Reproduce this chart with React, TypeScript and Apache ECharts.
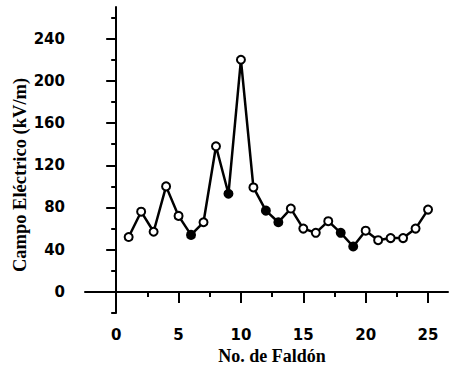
import React, { useEffect, useRef } from "react";
import * as echarts from "echarts";

const faldon = [1, 2, 3, 4, 5, 6, 7, 8, 9, 10, 11, 12, 13, 14, 15, 16, 17, 18, 19, 20, 21, 22, 23, 24, 25];
const campo = [52, 76, 57, 100, 72, 54, 66, 138, 93, 220, 99, 77, 66, 79, 60, 56, 67, 56, 43, 58, 49, 51, 51, 60, 78];
const filledPoints = [6, 9, 12, 13, 18, 19];

const yMajorTicks = [0, 40, 80, 120, 160, 200, 240];
const yMinorTicks = [-20, 20, 60, 100, 140, 180, 220, 260];
const xMajorTicks = [0, 5, 10, 15, 20, 25];
const xMinorTicks = [2.5, 7.5, 12.5, 17.5, 22.5];

const xTitle = "No. de Faldón";
const yTitle = "Campo Eléctrico (kV/m)";

export default function App() {
  const ref = useRef<HTMLDivElement>(null);
  useEffect(() => {
    if (!ref.current) return;
    const chart = echarts.init(ref.current, null, { renderer: "svg" });
    const numFont = { fontFamily: "DejaVu Sans", fontWeight: "bold", color: "#000" };
    const titleStyle = {
      fontFamily: "Liberation Serif",
      fontWeight: "bold",
      fill: "#000",
      align: "center",
      verticalAlign: "middle",
    };
    chart.setOption({
      animation: false,
      backgroundColor: "#fff",
      grid: { left: 85, top: 7, right: 2, bottom: 52, containLabel: false, outerBoundsMode: "none" },
      graphic: [
        {
          type: "text",
          x: 20,
          y: 175,
          rotation: Math.PI / 2,
          style: { ...titleStyle, text: yTitle, fontSize: 18.5 },
        },
        {
          type: "text",
          x: 272,
          y: 356,
          style: { ...titleStyle, text: xTitle, fontSize: 18 },
        },
      ],
      xAxis: [
        {
          type: "value",
          min: -2.5,
          max: 26.6,
          position: "bottom",
          splitLine: { show: false },
          axisLine: { lineStyle: { color: "#000", width: 2 } },
          axisTick: { customValues: xMajorTicks, length: 11, lineStyle: { color: "#000", width: 2 } },
          axisLabel: { customValues: xMajorTicks, margin: 14, fontSize: 15, ...numFont },
        },
        {
          type: "value",
          min: -2.5,
          max: 26.6,
          position: "bottom",
          splitLine: { show: false },
          axisLine: { show: false },
          axisTick: { customValues: xMinorTicks, length: 5, lineStyle: { color: "#000", width: 2 } },
          axisLabel: { show: false },
        },
      ],
      yAxis: [
        {
          type: "value",
          min: -20,
          max: 270,
          position: "left",
          splitLine: { show: false },
          axisLine: { lineStyle: { color: "#000", width: 2 } },
          axisTick: { customValues: yMajorTicks, length: 10, lineStyle: { color: "#000", width: 2 } },
          axisLabel: { customValues: yMajorTicks, margin: 20, fontSize: 15, ...numFont },
        },
        {
          type: "value",
          min: -20,
          max: 270,
          position: "left",
          splitLine: { show: false },
          axisLine: { show: false },
          axisTick: { customValues: yMinorTicks, length: 5, lineStyle: { color: "#000", width: 2 } },
          axisLabel: { show: false },
        },
      ],
      series: [
        {
          type: "line",
          xAxisIndex: 0,
          yAxisIndex: 0,
          data: faldon.map((x, i) => [x, campo[i]]),
          symbol: "circle",
          symbolSize: 8,
          lineStyle: { color: "#000", width: 2.5 },
          itemStyle: {
            color: (p: any) => (filledPoints.includes(p.data[0]) ? "#000" : "#fff"),
            borderColor: "#000",
            borderWidth: 2,
          },
        },
      ],
    });
    return () => chart.dispose();
  }, []);
  return <div ref={ref} style={{ width: 450, height: 365, position: "absolute", left: 0, top: 0 }} />;
}
